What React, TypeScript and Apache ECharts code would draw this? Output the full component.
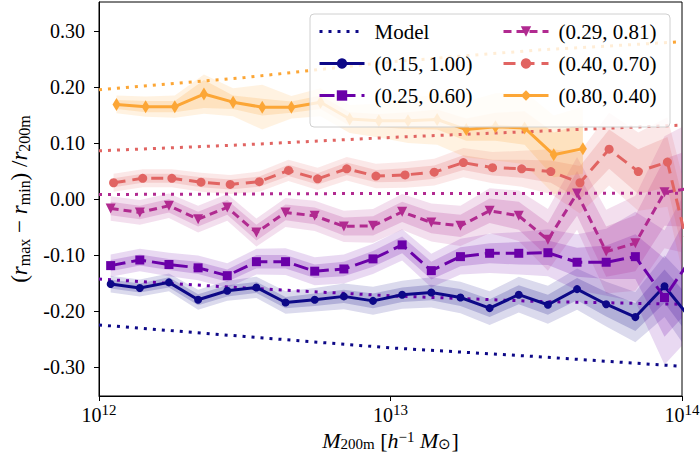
import React, { useEffect, useRef } from 'react';
import * as echarts from 'echarts';

// log10 of bin masses for each series
const logMA = [12.04, 12.14, 12.24, 12.34, 12.44, 12.54, 12.64, 12.74, 12.84, 12.94, 13.04, 13.14, 13.24, 13.34, 13.44, 13.54, 13.64, 13.74, 13.84, 13.94, 14.04];
const logMB = [12.05, 12.15, 12.25, 12.35, 12.45, 12.55, 12.65, 12.75, 12.85, 12.95, 13.05, 13.15, 13.25, 13.35, 13.45, 13.55, 13.65, 13.75, 13.85, 13.95, 14.05];
const logMC = [12.06, 12.16, 12.26, 12.36, 12.46, 12.56, 12.66, 12.76, 12.86, 12.96, 13.06, 13.16, 13.26, 13.36, 13.46, 13.56, 13.66];

// series values
const yA = [-0.152, -0.159, -0.149, -0.180, -0.164, -0.158, -0.185, -0.180, -0.174, -0.182, -0.171, -0.167, -0.176, -0.195, -0.171, -0.189, -0.161, -0.188, -0.211, -0.156, -0.22];
const yB = [-0.119, -0.109, -0.117, -0.123, -0.137, -0.112, -0.112, -0.129, -0.125, -0.107, -0.082, -0.128, -0.103, -0.097, -0.097, -0.096, -0.113, -0.113, -0.103, -0.176, -0.10];
const yC = [-0.017, -0.024, -0.012, -0.036, -0.015, -0.060, -0.024, -0.030, -0.049, -0.048, -0.023, -0.042, -0.048, -0.021, -0.030, -0.073, 0.010, -0.094, -0.079, 0.012, 0.02];
const yD = [0.029, 0.037, 0.037, 0.030, 0.026, 0.031, 0.051, 0.036, 0.054, 0.041, 0.043, 0.048, 0.065, 0.056, 0.054, 0.049, 0.029, 0.089, 0.049, 0.066, -0.15];
const yE = [0.169, 0.165, 0.165, 0.1875, 0.173, 0.164, 0.164, 0.173, 0.143, 0.140, 0.140, 0.142, 0.124, 0.129, 0.127, 0.079, 0.090];

// band half widths (inner, outer)
const e1A = [0.008, 0.008, 0.009, 0.01, 0.01, 0.01, 0.01, 0.011, 0.012, 0.013, 0.013, 0.014, 0.015, 0.016, 0.017, 0.018, 0.02, 0.022, 0.025, 0.03, 0.035];
const e2A = [0.015, 0.015, 0.016, 0.018, 0.018, 0.019, 0.02, 0.021, 0.023, 0.025, 0.025, 0.027, 0.028, 0.03, 0.032, 0.034, 0.037, 0.04, 0.045, 0.055, 0.065];
const e1B = [0.01, 0.01, 0.01, 0.011, 0.011, 0.012, 0.012, 0.012, 0.013, 0.014, 0.015, 0.016, 0.017, 0.018, 0.02, 0.022, 0.026, 0.03, 0.04, 0.07, 0.09];
const e2B = [0.02, 0.02, 0.021, 0.022, 0.022, 0.023, 0.024, 0.025, 0.026, 0.027, 0.028, 0.03, 0.032, 0.035, 0.038, 0.042, 0.05, 0.06, 0.08, 0.12, 0.14];
const e1C = [0.012, 0.012, 0.012, 0.013, 0.013, 0.014, 0.014, 0.015, 0.016, 0.017, 0.018, 0.019, 0.02, 0.022, 0.025, 0.03, 0.04, 0.045, 0.05, 0.06, 0.07];
const e2C = [0.022, 0.022, 0.022, 0.024, 0.024, 0.025, 0.026, 0.027, 0.028, 0.03, 0.032, 0.034, 0.036, 0.04, 0.045, 0.055, 0.065, 0.075, 0.085, 0.1, 0.12];
const e1D = [0.008, 0.008, 0.008, 0.009, 0.009, 0.009, 0.01, 0.01, 0.011, 0.011, 0.012, 0.012, 0.013, 0.014, 0.016, 0.02, 0.03, 0.035, 0.04, 0.045, 0.05];
const e2D = [0.016, 0.016, 0.016, 0.017, 0.017, 0.018, 0.019, 0.02, 0.021, 0.022, 0.023, 0.024, 0.026, 0.028, 0.032, 0.04, 0.055, 0.065, 0.07, 0.08, 0.09];
const e1E = [0.008, 0.01, 0.01, 0.025, 0.012, 0.015, 0.01, 0.012, 0.012, 0.012, 0.015, 0.018, 0.02, 0.025, 0.03, 0.04, 0.045];
const e2E = [0.016, 0.018, 0.02, 0.035, 0.025, 0.04, 0.02, 0.025, 0.025, 0.03, 0.04, 0.045, 0.05, 0.06, 0.065, 0.07, 0.075];

// model curves
const modelLogM = [12.0, 12.5, 13.0, 13.5, 14.0];
const modelA = [-0.225, -0.2457, -0.266, -0.2815, -0.299];
const modelB = [-0.143, -0.159, -0.173, -0.183, -0.188];
const modelC = [0.008, 0.009, 0.010, 0.010, 0.0105];
const modelD = [0.086, 0.097, 0.110, 0.121, 0.132];
const modelE = [0.195, 0.217, 0.245, 0.266, 0.281];

const names = ['(0.15, 1.00)', '(0.25, 0.60)', '(0.29, 0.81)', '(0.40, 0.70)', '(0.80, 0.40)'];
const yTicks = [-0.3, -0.2, -0.1, 0.0, 0.1, 0.2, 0.3];
const xTicks = [1e12, 1e13, 1e14];

const FONT = 'Liberation Serif';

function rgba(hex: string, a: number) {
  const n = parseInt(hex.slice(1), 16);
  return `rgba(${(n >> 16) & 255},${(n >> 8) & 255},${n & 255},${a})`;
}

export default function App() {
  const ref = useRef<HTMLDivElement>(null);
  useEffect(() => {
    const chart = echarts.init(ref.current!, null, { renderer: 'svg' });

    const groups = [
      { name: names[0], color: '#0d0887', logM: logMA, y: yA, e1: e1A, e2: e2A, model: modelA, symbol: 'circle', size: 8, rot: 0, dash: 'solid' as any },
      { name: names[1], color: '#6a00a8', logM: logMA, y: yB, e1: e1B, e2: e2B, model: modelB, symbol: 'rect', size: 9, rot: 0, dash: [15, 6] },
      { name: names[2], color: '#b12a90', logM: logMA, y: yC, e1: e1C, e2: e2C, model: modelC, symbol: 'triangle', size: 10, rot: 180, dash: [8, 5] },
      { name: names[3], color: '#e16462', logM: logMB, y: yD, e1: e1D, e2: e2D, model: modelD, symbol: 'circle', size: 9, rot: 0, dash: [12, 7] },
      { name: names[4], color: '#fca636', logM: logMC, y: yE, e1: e1E, e2: e2E, model: modelE, symbol: 'diamond', size: [8, 13], rot: 0, dash: 'solid' as any },
    ];

    const band = (logM: number[], y: number[], e: number[], fill: string) => ({
      type: 'custom',
      silent: true,
      z: 1,
      data: [[1e13, 0]],
      renderItem: (params: any, api: any) => {
        const up = logM.map((m, i) => api.coord([Math.pow(10, m), y[i] + e[i]]));
        const lo = logM.map((m, i) => api.coord([Math.pow(10, m), y[i] - e[i]])).reverse();
        const cs = params.coordSys;
        return {
          type: 'polygon',
          shape: { points: up.concat(lo) },
          style: { fill },
          clipPath: { type: 'rect', shape: { x: cs.x, y: cs.y, width: cs.width, height: cs.height } },
        };
      },
    });

    const series: any[] = [];
    groups.forEach((g) => {
      series.push(band(g.logM, g.y, g.e2, rgba(g.color, 0.15)));
      series.push(band(g.logM, g.y, g.e1, rgba(g.color, 0.2)));
    });
    groups.forEach((g) => {
      series.push({
        type: 'line',
        name: 'Model',
        data: modelLogM.map((m, i) => [Math.pow(10, m), g.model[i]]),
        symbol: 'circle',
        showSymbol: false,
        smooth: false,
        lineStyle: { color: g.color, width: 3, type: [3, 6], cap: 'butt' },
        itemStyle: { color: g.color },
        z: 2,
        clip: true,
        silent: true,
      });
    });
    groups.forEach((g) => {
      series.push({
        type: 'line',
        name: g.name,
        data: g.logM.map((m, i) => [Math.pow(10, m), g.y[i]]),
        symbol: g.symbol,
        symbolSize: g.size,
        symbolRotate: g.rot,
        showSymbol: true,
        lineStyle: { color: g.color, width: 3, type: g.dash },
        itemStyle: { color: g.color },
        z: 3,
        clip: true,
        silent: true,
      });
    });

    const legendBase = {
      orient: 'vertical',
      top: 21,
      itemWidth: 45,
      itemHeight: 13,
      itemGap: 11,
      padding: 0,
      selectedMode: false,
      z: 6,
      lineStyle: { width: 3 },
      formatter: '{t|{name}}',
      textStyle: {
        fontFamily: FONT, fontSize: 21, color: '#000',
        rich: { t: { fontFamily: FONT, fontSize: 21, lineHeight: 24, color: '#000', padding: [0, 0, 0, 5] } },
      },
    };

    const option: any = {
      animation: false,
      textStyle: { fontFamily: FONT, color: '#000', fontWeight: 'normal' },
      grid: {
        left: 99, right: 18, top: 2, bottom: 60,
        show: true, borderColor: '#000', borderWidth: 1,
        containLabel: false, outerBoundsMode: 'none',
      },
      legend: [
        { ...legendBase, left: 318, data: [{ name: 'Model', itemStyle: { opacity: 0 } }, names[0], names[1]] },
        { ...legendBase, left: 502, data: [names[2], names[3], names[4]] },
      ],
      graphic: {
        elements: [
          {
            type: 'rect', z: 5, silent: true,
            shape: { x: 310, y: 14, width: 360, height: 113, r: 4 },
            style: { fill: 'rgba(255,255,255,0.8)', stroke: '#d0d0d0', lineWidth: 1 },
          },
        ],
      },
      xAxis: {
        type: 'log',
        logBase: 10,
        min: 1e12,
        max: 1e14,
        axisLine: { show: true, onZero: false, lineStyle: { color: '#000', width: 1 } },
        axisTick: { show: true, length: 5, customValues: xTicks, lineStyle: { color: '#000' } },
        minorTick: { show: false },
        splitLine: { show: false },
        axisLabel: {
          customValues: xTicks,
          margin: 6,
          showMinLabel: true,
          showMaxLabel: true,
          formatter: (v: number) => `{b|10}{sup|${Math.round(Math.log10(v))}}`,
          rich: {
            b: { fontFamily: FONT, fontSize: 20, lineHeight: 26, color: '#000' },
            sup: { fontFamily: FONT, fontSize: 15, lineHeight: 14, color: '#000', verticalAlign: 'top' },
          },
        },
        name: '{i|M}{s|200m}{p| [}{i|h}{sup|−1}{p| }{i|M}{s|⊙}{p|]}',
        nameLocation: 'middle',
        nameGap: 32,
        nameTextStyle: {
          rich: {
            p: { fontFamily: FONT, fontSize: 22, lineHeight: 22, color: '#000' },
            i: { fontFamily: FONT, fontSize: 22, lineHeight: 22, color: '#000', fontStyle: 'italic' },
            s: { fontFamily: FONT, fontSize: 15, lineHeight: 12, color: '#000', verticalAlign: 'bottom' },
            sup: { fontFamily: FONT, fontSize: 15, lineHeight: 12, color: '#000', verticalAlign: 'top' },
          },
        },
      },
      yAxis: {
        type: 'value',
        min: -0.352,
        max: 0.352,
        axisLine: { show: true, onZero: false, lineStyle: { color: '#000', width: 1 } },
        axisTick: { show: true, length: 5, customValues: yTicks, lineStyle: { color: '#000' } },
        splitLine: { show: false },
        axisLabel: {
          customValues: yTicks,
          margin: 14,
          fontFamily: FONT,
          fontSize: 20,
          fontWeight: 'normal',
          color: '#000',
          formatter: (v: number) => `{t|${Math.abs(v) < 1e-9 ? '0.00' : v.toFixed(2)}}`,
          rich: { t: { fontFamily: FONT, fontSize: 20, fontWeight: 'normal', color: '#000' } },
        },
        name: '{p|(}{i|r}{s|max}{p| − }{i|r}{s|min}{p|) /}{i|r}{s|200m}',
        nameLocation: 'middle',
        nameRotate: 90,
        nameGap: 62,
        nameTextStyle: {
          rich: {
            p: { fontFamily: FONT, fontSize: 23, lineHeight: 26, color: '#000' },
            i: { fontFamily: FONT, fontSize: 23, lineHeight: 26, color: '#000', fontStyle: 'italic' },
            s: { fontFamily: FONT, fontSize: 16, lineHeight: 13, color: '#000', verticalAlign: 'bottom' },
          },
        },
      },
      series,
    };

    chart.setOption(option);
    return () => chart.dispose();
  }, []);

  return <div ref={ref} style={{ position: 'absolute', left: 0, top: 0, width: 700, height: 456 }} />;
}
